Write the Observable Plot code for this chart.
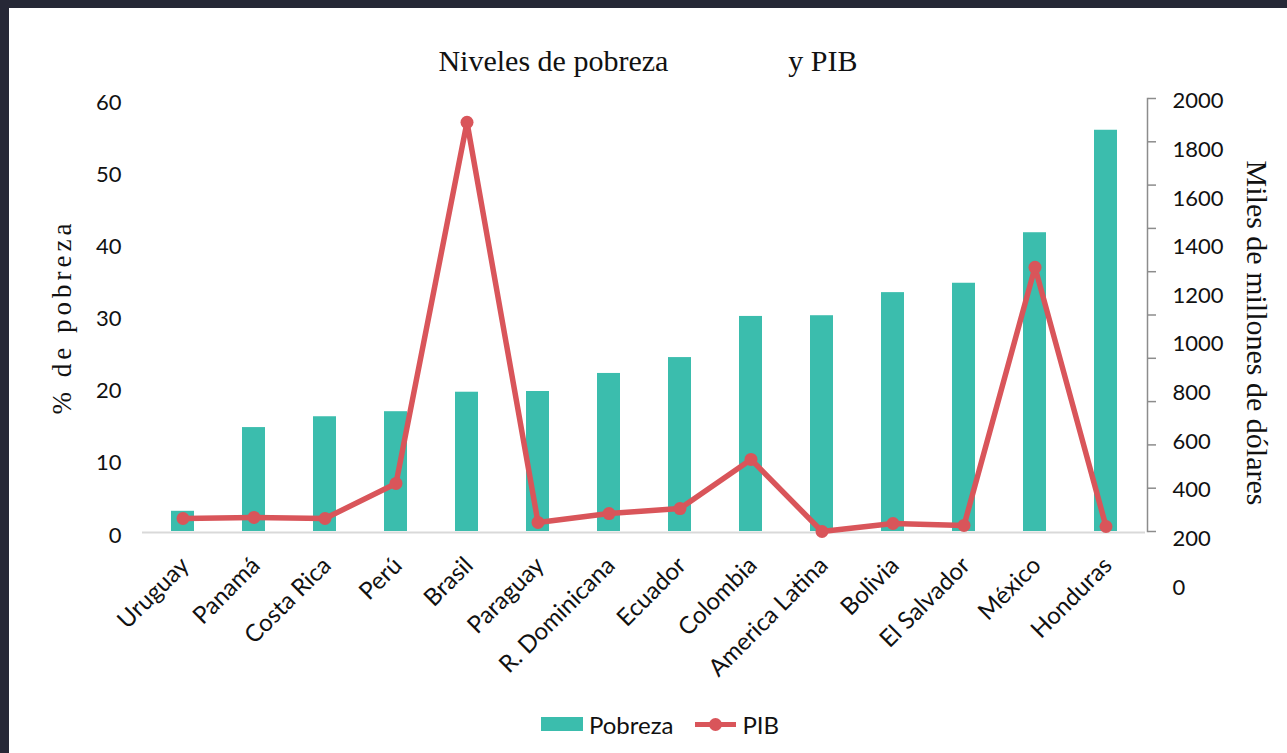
<!DOCTYPE html>
<html>
<head>
<meta charset="utf-8">
<script src="https://cdn.jsdelivr.net/npm/d3@7"></script>
<script src="https://cdn.jsdelivr.net/npm/@observablehq/plot@0.6"></script>
<style>
  html, body { margin: 0; padding: 0; background: #262836; width: 1287px; height: 753px; overflow: hidden; }
  #panel { position: absolute; left: 9px; top: 8px; width: 1278px; height: 745px; background: #fff; }
  #title { position: absolute; left: 0; width: 1278px; top: 36px; text-align: center; font-family: "Liberation Serif", serif; font-size: 30px; line-height: 34px; white-space: pre; color: #111; }
  #chart { position: absolute; left: 0; top: 77px; }
  .ytitle { position: absolute; font-family: "Liberation Serif", serif; white-space: nowrap; color: #111; }
  #yl { left: 53px; top: 309px; font-size: 27px; letter-spacing: 4px; transform: translate(-50%, -50%) rotate(-90deg); }
  #yr { left: 1248px; top: 325px; font-size: 30px; transform: translate(-50%, -50%) rotate(90deg); }
  #legend { position: absolute; top: 700px; left: 12px; width: 1278px; display: flex; justify-content: center; align-items: center; font-family: Lato, sans-serif; font-size: 24px; color: #111; height: 32px; }
  .sw { display: inline-block; width: 42px; height: 14px; background: #3bbdad; margin-right: 6px; }
  .ln { position: relative; display: inline-block; width: 41px; height: 5px; background: #d9555a; margin: 0 6px 0 22px; }
  .ln::after { content: ""; position: absolute; left: 14px; top: -4px; width: 13px; height: 13px; border-radius: 50%; background: #d9555a; }
</style>
</head>
<body>
<div id="panel">
  <div id="title">Niveles de pobreza                y PIB</div>
  <div id="chart"></div>
  <div class="ytitle" id="yl">% de pobreza</div>
  <div class="ytitle" id="yr">Miles de millones de dólares</div>
  <div id="legend"><span class="sw"></span>Pobreza<span class="ln"></span>PIB</div>
</div>
<script>
const countries = ["Uruguay", "Panamá", "Costa Rica", "Perú", "Brasil", "Paraguay", "R. Dominicana", "Ecuador", "Colombia", "America Latina", "Bolivia", "El Salvador", "México", "Honduras"];
const pobreza = [2.8, 14.4, 15.9, 16.6, 19.3, 19.4, 21.9, 24.1, 29.8, 29.9, 33.1, 34.4, 41.4, 55.6];
const pib = [60, 65, 60, 222, 1890, 42, 83, 106, 333, 0, 37, 28, 1220, 23];
const pobrezaTicks = [0, 10, 20, 30, 40, 50, 60];
const pibTicks = [0, 200, 400, 600, 800, 1000, 1200, 1400, 1600, 1800, 2000];

const teal = "#3bbdad";
const red = "#d9555a";

const data = countries.map((c, i) => ({country: c, pobreza: pobreza[i], pib: pib[i]}));

// secondary axis: PIB (0–2000) drawn on the poverty scale (0–60)
const pibToY = d3.scaleLinear([0, 2000], [0, 60]);
// the right-axis labels in the original sit on a stretched grid below the ticks
const pibLabelY = d3.scaleLinear([0, 2000], [-7.76, 59.6]);

const chart = Plot.plot({
  width: 1278,
  height: 615,
  marginTop: 13,
  marginBottom: 169,
  marginLeft: 133,
  marginRight: 142,
  style: {fontFamily: "Lato, sans-serif", fontSize: "22px", color: "#111", background: "transparent"},
  x: {domain: countries, paddingInner: 0.68, paddingOuter: 0.34, label: null},
  y: {domain: [0, 60], label: null},
  marks: [
    Plot.barY(data, {x: "country", y: "pobreza", fill: teal}),
    Plot.ruleY([0], {stroke: "#d9d9d9", strokeWidth: 2, dy: 1}),
    Plot.axisY(pobrezaTicks, {anchor: "left", tickSize: 0, tickPadding: 21, dy: 4, fontSize: 22, label: null}),
    Plot.frame({anchor: "right", stroke: "#8c8c8c", strokeWidth: 1.5, dx: 2}),
    Plot.axisY(pibTicks.map(v => pibToY(v)), {anchor: "right", tickSize: 8, dx: 2, tickFormat: () => "", stroke: "#8c8c8c", strokeWidth: 1.5, strokeOpacity: 1, label: null}),
    Plot.text(pibTicks, {y: v => pibLabelY(v), text: v => String(v), frameAnchor: "right", textAnchor: "start", dx: 27, fontSize: 22}),
    Plot.axisX({anchor: "bottom", tickSize: 0, tickRotate: -45, tickPadding: 30, dx: 2, fontSize: 24, label: null}),
    Plot.line(data, {x: "country", y: d => pibToY(d.pib), stroke: red, strokeWidth: 5.5}),
    Plot.dot(data, {x: "country", y: d => pibToY(d.pib), r: 6.5, fill: red})
  ]
});
document.getElementById("chart").appendChild(chart);
</script>
</body>
</html>
